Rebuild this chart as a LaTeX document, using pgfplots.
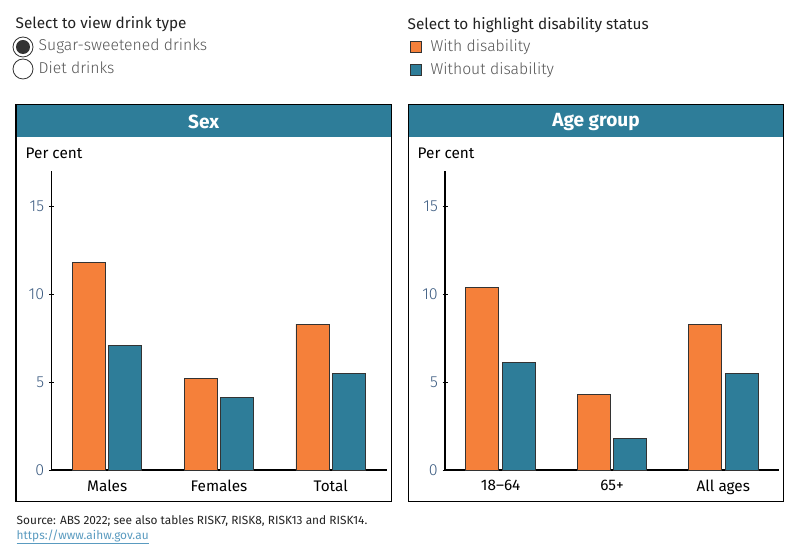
\documentclass[border=0pt]{standalone}
\usepackage{pgfplots}
\pgfplotsset{compat=1.18}
\usepackage{fontspec}
\setmainfont{Fira Sans}
\newfontfamily\lightf{Fira Sans Light}
\definecolor{orangeW}{HTML}{F5803A}
\definecolor{tealWO}{HTML}{2E7D99}
\definecolor{hdr}{HTML}{2E7D99}
\definecolor{ticklab}{HTML}{3A5A80}
\definecolor{txt}{HTML}{222222}
\definecolor{opt}{HTML}{555555}
\definecolor{url}{HTML}{5A9BC0}

\pgfplotsset{panel/.style={
  scale only axis, axis lines=left,
  axis line style={-, black, line width=0.9pt},
  ymin=0, ymax=17, xmin=-0.5, xmax=2.5,
  ytick={0,5,10,15}, xtick={0,1,2},
  major tick length=3.75pt,
  xtick style={draw=none}, ytick style={black, line width=0.6pt},
  yticklabel style={font=\lightf\fontsize{12}{13}\selectfont, text=ticklab},
  xticklabel style={font=\fontsize{11.5}{13}\selectfont, text=black},
  /pgf/number format/assume math mode=true,
  ybar, bar width=24.75pt,
  height=224.25pt,
  clip=false,
}}
\pgfplotsset{withbar/.style={fill=orangeW, draw=black!80, line width=0.7pt, bar shift=-13.7pt},
             withoutbar/.style={fill=tealWO, draw=black!80, line width=0.7pt, bar shift=13.7pt}}

\begin{document}
\begin{tikzpicture}[x=0.75pt, y=0.75pt]
\fill[white] (0,0) rectangle (800,560);

% controls left
\node[anchor=west, font=\fontsize{11.5}{13}\selectfont, text=txt] at (11,536) {Select to view drink type};
\draw[black!80, line width=0.6pt] (23,513) circle (10);
\fill[black!80] (23,513) circle (7);
\draw[black!80, line width=0.6pt] (23,491) circle (10);
\node[anchor=west, font=\lightf\fontsize{11.8}{13}\selectfont, text=opt] at (34,514) {Sugar-sweetened drinks};
\node[anchor=west, font=\lightf\fontsize{11.8}{13}\selectfont, text=opt] at (34,492) {Diet drinks};

% legend right
\node[anchor=west, font=\fontsize{11.5}{13}\selectfont, text=txt] at (403,535) {Select to highlight disability status};
\filldraw[fill=orangeW, draw=black!80, line width=0.6pt] (410,519) rectangle (421,508);
\filldraw[fill=tealWO, draw=black!80, line width=0.6pt] (410,496) rectangle (421,485);
\node[anchor=west, font=\lightf\fontsize{11.8}{13}\selectfont, text=opt] at (426,513) {With disability};
\node[anchor=west, font=\lightf\fontsize{11.8}{13}\selectfont, text=opt] at (426,490) {Without disability};

% panel boxes
\fill[hdr] (16,455.5) rectangle (391.3,423.3);
\fill[hdr] (408.7,455.5) rectangle (783.3,423.3);
\draw[black, line width=1pt] (16,455.5) rectangle (391.3,58.3);
\draw[black, line width=1pt] (408.7,455.5) rectangle (783.3,58.3);
\node[font=\bfseries\fontsize{14.3}{16}\selectfont, text=white] at (203.6,438) {Sex};
\node[font=\bfseries\fontsize{14.3}{16}\selectfont, text=white] at (596,438) {Age group};
\node[anchor=west, font=\fontsize{11.5}{13}\selectfont, text=black] at (21,407) {Per cent};
\node[anchor=west, font=\fontsize{11.5}{13}\selectfont, text=black] at (413,407) {Per cent};

% left axis
\begin{axis}[panel, at={(38.475pt,67.5pt)}, anchor=south west, width=251.5pt,
  xticklabels={Males,Females,Total}]
\addplot[withbar] coordinates {(0,11.8) (1,5.2) (2,8.3)};
\addplot[withoutbar] coordinates {(0,7.1) (1,4.1) (2,5.5)};
\end{axis}

% right axis
\begin{axis}[panel, at={(333.75pt,67.5pt)}, anchor=south west, width=250.5pt,
  xticklabels={18--64,65+,All ages}]
\addplot[withbar] coordinates {(0,10.4) (1,4.3) (2,8.3)};
\addplot[withoutbar] coordinates {(0,6.1) (1,1.8) (2,5.5)};
\end{axis}

% source
\node[anchor=west, font=\fontsize{8.9}{10}\selectfont, text=txt] at (12,39) {Source: ABS 2022; see also tables RISK7, RISK8, RISK13 and RISK14.};
\node[anchor=west, font=\fontsize{8.9}{10}\selectfont, text=url] at (12,23) {\underline{https://www.aihw.gov.au}};
\end{tikzpicture}
\end{document}
